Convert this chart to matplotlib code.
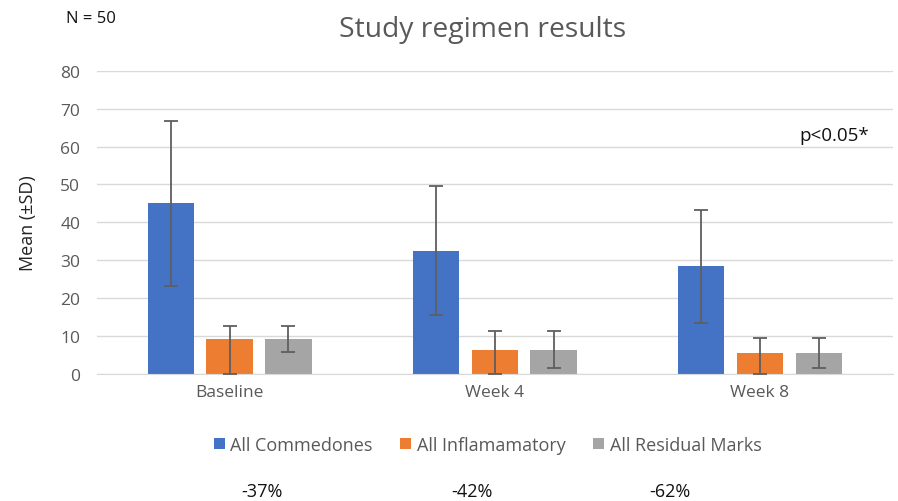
import matplotlib
matplotlib.use("Agg")
import matplotlib.pyplot as plt
import numpy as np

categories = ["Baseline", "Week 4", "Week 8"]
series_names = ["All Commedones", "All Inflamamatory", "All Residual Marks"]
means = {
    "All Commedones": [45.0, 32.5, 28.4],
    "All Inflamamatory": [9.2, 6.3, 5.5],
    "All Residual Marks": [9.2, 6.3, 5.5],
}
err_low = {
    "All Commedones": [21.8, 17.0, 14.9],
    "All Inflamamatory": [9.2, 6.3, 5.5],
    "All Residual Marks": [3.5, 4.8, 3.9],
}
err_high = {
    "All Commedones": [21.8, 17.0, 14.9],
    "All Inflamamatory": [3.5, 5.0, 3.9],
    "All Residual Marks": [3.5, 5.0, 3.9],
}
pct_labels = ["-37%", "-42%", "-62%"]
yticks = [0, 10, 20, 30, 40, 50, 60, 70, 80]

colors = ["#4472C4", "#ED7D31", "#A5A5A5"]
plt.rcParams['font.family'] = ['Open Sans', 'DejaVu Sans']
txt = "#595959"

fig = plt.figure(figsize=(8.98, 5.02), dpi=100)
ax = fig.add_axes([0.108, 0.253, 0.886, 0.604])

x = np.arange(len(categories))
w = 0.175
step = 0.222
for i, s in enumerate(series_names):
    pos = x + (i - 1) * step
    ax.bar(pos, means[s], width=w, color=colors[i], label=s, zorder=2)
    ax.errorbar(pos, means[s], yerr=[err_low[s], err_high[s]], fmt="none",
                ecolor="#5f5f5f", elinewidth=1.3, capsize=5, capthick=1.3, zorder=3)

ax.set_ylim(0, 80)
ax.set_xlim(-0.5, 2.5)
ax.set_yticks(yticks)
ax.set_xticks(x)
ax.set_xticklabels(categories, color=txt, fontsize=12.5)
ax.tick_params(axis="y", colors=txt, labelsize=12.5, length=0, pad=12)
ax.tick_params(axis="x", length=0, pad=7)
ax.grid(axis="y", color="#D9D9D9", linewidth=1, zorder=0)
for sp in ["top", "right", "left"]:
    ax.spines[sp].set_visible(False)
ax.spines["bottom"].set_color("#D9D9D9")
ax.set_ylabel("Mean (±SD)", fontsize=13, color="#222222", labelpad=17)

fig.text(0.537, 0.940, "Study regimen results", ha="center", va="center",
         fontsize=20.3, color=txt)
fig.text(0.101, 0.963, "N = 50", ha="center", va="center", fontsize=12, color="#111111")
fig.text(0.929, 0.729, "p<0.05*", ha="center", va="center", fontsize=13.5, color="#111111")

leg = fig.legend(loc="center", bbox_to_anchor=(0.543, 0.112), ncol=3, frameon=False,
                 fontsize=13, handlelength=0.6, handleheight=0.6, handletextpad=0.3,
                 columnspacing=1.55, labelcolor=txt)

for xp, lab in zip([0.292, 0.526, 0.746], pct_labels):
    fig.text(xp, 0.02, lab, ha="center", va="center", fontsize=13, color="#111111")

fig.savefig("out.png", dpi=100)
